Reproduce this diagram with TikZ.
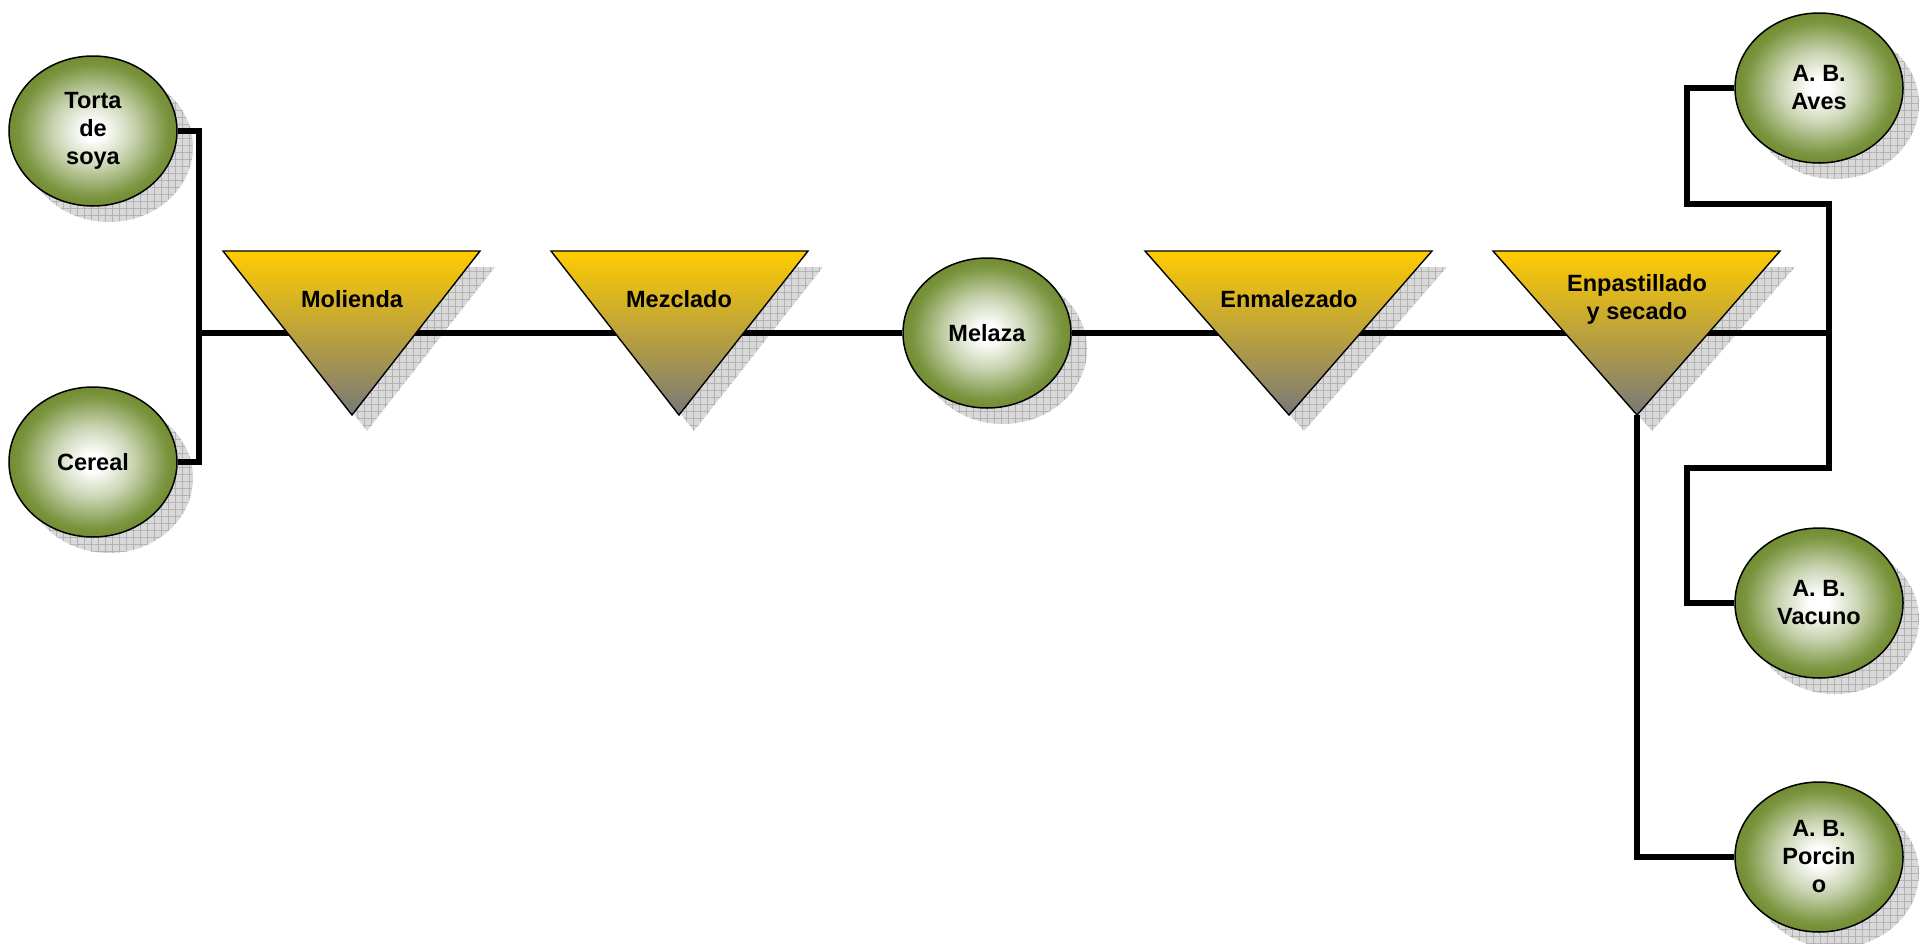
\documentclass[tikz,border=0pt]{standalone}
\usepackage{fontspec}
\setmainfont{Liberation Sans}
\usetikzlibrary{shapes.geometric,patterns.meta}
\definecolor{ballgreen}{RGB}{100,130,30}
\definecolor{trigold}{RGB}{255,204,0}
\definecolor{trigray}{RGB}{120,120,120}
\pgfdeclareradialshading{greenball}{\pgfpoint{0bp}{0bp}}{%
  color(0bp)=(white); color(3bp)=(white); color(12bp)=(ballgreen!35!white); color(22bp)=(ballgreen!85!white); color(29bp)=(ballgreen); color(50bp)=(ballgreen)}
\pgfdeclarelayer{shadow}
\pgfdeclarelayer{lines}
\pgfsetlayers{shadow,lines,main}
\tikzset{
  ball/.style={ellipse, draw=black, line width=1.5pt, shading=greenball,
    minimum width=168pt, minimum height=150pt, inner sep=0pt, align=center, font=\lbl},
  tri/.style={draw=black, line width=1.4pt, line join=miter, top color=trigold, bottom color=trigray},
  lbl node/.style={align=center, font=\lbl, inner sep=0pt},
  shade box/.style={fill=gray!30, postaction={pattern={Lines[distance=7pt,angle=0,line width=0.7pt]}, pattern color=gray!60},
    postaction={pattern={Lines[distance=7pt,angle=90,line width=0.7pt]}, pattern color=gray!60}},
  conn/.style={draw=black, line width=6pt, line join=miter}
}
\newcommand{\lbl}{\fontsize{23.5}{28}\selectfont\bfseries}
\begin{document}
\begin{tikzpicture}[x=1pt,y=-1pt]
\useasboundingbox (0,0) rectangle (1927,943);
% circles
\node[ball] (torta) at (93,131) {Torta\\de\\soya};
\node[ball] (cereal) at (93,462) {Cereal};
\node[ball] (melaza) at (987,333) {Melaza};
\node[ball] (aves) at (1819,88) {A. B.\\Aves};
\node[ball] (vacuno) at (1819,603) {A. B.\\Vacuno};
\node[ball] (porcino) at (1819,857) {A. B.\\Porcin\\o};
% triangles
\path[tri] (223,251) -- (480,251) -- (352,415) -- cycle;
\path[tri] (551,251) -- (808,251) -- (679,415) -- cycle;
\path[tri] (1145,251) -- (1432,251) -- (1289,415) -- cycle;
\path[tri] (1493,251) -- (1780,251) -- (1637,415) -- cycle;
\node[lbl node] (molienda) at (352,299) {Molienda};
\node[lbl node] (mezclado) at (679,299) {Mezclado};
\node[lbl node] (enmalezado) at (1289,299) {Enmalezado};
\node[lbl node] (enpastillado) at (1637,299) {Enpastillado\\y secado};
\coordinate (enpApex) at (1637,415);
% shadows
\begin{pgfonlayer}{shadow}
\foreach \n in {torta,cereal,melaza,aves,vacuno,porcino}
  \path[shade box] ([shift={(16,16)}]\n.center) ellipse [x radius=84, y radius=75];
\path[shade box] (238,267) -- (495,267) -- (367,431) -- cycle;
\path[shade box] (566,267) -- (823,267) -- (694,431) -- cycle;
\path[shade box] (1160,267) -- (1447,267) -- (1304,431) -- cycle;
\path[shade box] (1508,267) -- (1795,267) -- (1652,431) -- cycle;
\end{pgfonlayer}
% connectors
\coordinate (jl) at (199,333);
\coordinate (jr) at (1829,333);
\coordinate (rt) at (1829,204);
\coordinate (rb) at (1829,468);
\coordinate (ka) at (1687,204);
\coordinate (kv) at (1687,468);
\begin{pgfonlayer}{lines}
\draw[conn] (torta.east) -| (jl) |- (cereal.east);
\draw[conn] (jl) -- (melaza.west);
\draw[conn] (melaza.east) -- (jr);
\draw[conn] (aves.west) -| (ka) -- (rt) -- (rb) -- (kv) |- (vacuno.west);
\draw[conn] (enpApex) |- (porcino.west);
\end{pgfonlayer}
\end{tikzpicture}
\end{document}
